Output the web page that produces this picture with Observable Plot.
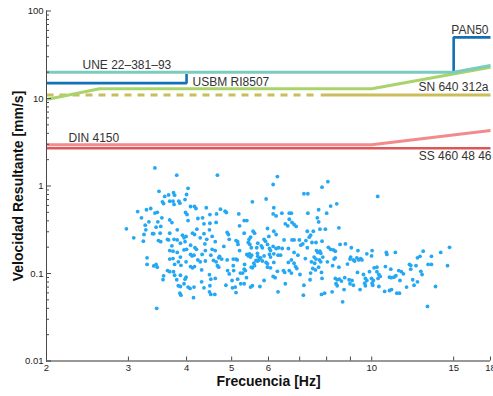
<!DOCTYPE html>
<html><head><meta charset="utf-8">
<script src="https://cdn.jsdelivr.net/npm/d3@7"></script>
<script src="https://cdn.jsdelivr.net/npm/@observablehq/plot@0.6"></script>
<style>
html,body{margin:0;padding:0;background:#fff;}
#chart svg{display:block;}
</style>
</head><body><div id="chart"></div>
<script>
// ---- axis ticks ----
const xTickValues = [2, 3, 4, 5, 6, 7, 8, 9, 10, 15, 18];
const yTickValues = [0.01, 0.1, 1, 10, 100];
const yMinorValues = [0.02,0.03,0.04,0.05,0.06,0.07,0.08,0.09,
                      0.2,0.3,0.4,0.5,0.6,0.7,0.8,0.9,
                      2,3,4,5,6,7,8,9,
                      20,30,40,50,60,70,80,90];

// ---- standard limit curves (Hz, mm/s) ----
const uneFreq = [2, 15, 18];        const uneVel = [20, 20, 23.8];
const usbmFreq = [2, 4, 4];         const usbmVel = [15, 15, 19];
const pan50Freq = [15, 15, 18];     const pan50Vel = [20, 50, 50];
const snFreq = [2, 2.6, 10, 18];    const snVel = [9.75, 12.9, 12.9, 22.8];
const oliveDashFreq = [2, 7.58];    const oliveDashVel = [11, 11];
const oliveFreq = [7.77, 18];       const oliveVel = [11, 11];
const dinFreq = [2, 10, 18];        const dinVel = [2.96, 2.96, 4.3];
const ssFreq = [2, 18];             const ssVel = [2.7, 2.7];

// ---- labels ----
const labelText = ["UNE 22–381–93", "USBM RI8507", "PAN50", "SN 640 312a", "DIN 4150", "SS 460 48 46"];
const labelFreq = [2, 4, 18, 18, 2, 18];
const labelVel  = [20, 15, 50, 12.9, 2.96, 2.7];

// ---- measured points ----
const scatterFreq = [
3.42,3.49,3.59,3.66,3.55,3.57,3.68,3.14,3.28,3.35,3.42,3.46,3.20,3.54,3.32,3.47,3.68,3.26,3.44,3.52,
2.97,3.27,3.24,3.38,3.40,3.51,3.68,3.08,3.23,3.48,3.52,3.64,3.66,3.68,3.29,3.29,3.40,3.44,3.46,3.64,
3.68,3.57,3.56,3.45,3.68,3.81,4.66,4.03,3.75,3.77,4.00,3.74,3.76,3.85,3.87,3.97,4.08,4.16,4.19,4.41,
4.73,4.84,4.87,3.98,4.01,4.49,4.64,4.23,4.33,4.03,3.72,4.36,4.49,4.63,3.82,4.21,4.36,4.48,4.89,4.92,
3.92,3.95,3.99,4.12,4.16,3.76,3.82,4.54,4.28,4.42,4.94,3.88,3.97,4.61,3.72,4.08,4.38,4.81,4.17,4.20,
3.95,4.00,4.39,4.54,4.61,3.74,3.82,4.08,4.11,4.15,4.32,4.51,3.88,3.74,4.69,4.71,4.76,3.84,3.99,4.23,
4.28,4.39,4.57,4.63,4.89,3.77,3.89,4.08,4.12,4.16,4.66,4.69,4.31,3.75,3.77,3.88,3.99,3.97,4.48,4.51,
4.61,4.90,4.94,3.81,4.31,4.86,3.84,3.88,3.95,4.03,4.07,4.15,4.36,4.49,3.87,3.89,4.48,4.51,4.60,4.14,
6.27,6.14,5.54,5.93,6.16,6.14,6.23,6.41,6.65,5.18,5.32,5.39,5.20,6.52,6.60,6.65,5.56,5.60,5.97,6.16,
6.23,5.32,5.49,5.45,6.01,5.87,5.91,6.48,5.11,5.15,5.16,5.43,5.47,5.69,5.79,5.82,5.97,6.14,6.31,5.51,
5.66,5.20,6.03,6.06,6.23,6.42,6.62,5.39,5.43,5.46,5.49,5.52,5.68,5.69,5.73,5.77,5.87,6.03,6.06,6.16,
6.29,6.37,5.11,5.04,5.14,5.64,5.68,5.71,5.58,5.82,5.93,5.97,6.16,5.33,6.62,5.04,5.51,5.54,5.60,5.97,
6.06,5.32,5.35,5.05,6.46,6.50,6.65,6.27,5.22,5.28,6.14,6.20,5.38,5.15,5.87,5.01,5.23,5.32,6.52,5.49,
5.54,5.75,5.02,5.09,5.11,6.29,8.05,7.82,7.15,7.29,8.41,8.16,6.72,7.29,7.69,8.00,7.64,7.69,6.74,6.81,
6.88,8.50,7.27,7.49,7.74,7.95,7.39,7.34,6.74,6.81,6.99,7.22,7.82,7.44,7.59,7.04,7.11,7.27,8.55,8.78,
8.07,8.16,8.27,8.35,7.61,7.66,7.74,7.77,6.81,6.94,7.20,7.52,7.59,7.72,7.85,8.30,8.35,8.98,6.72,6.81,
7.42,7.54,7.77,8.03,6.86,6.90,7.47,7.57,7.69,8.24,8.50,8.87,6.72,7.01,7.39,7.80,8.35,8.43,8.52,8.61,
8.75,7.82,7.37,8.38,8.43,7.15,8.94,8.72,8.22,7.80,7.92,7.13,8.66,8.98,10.3,9.04,9.34,9.76,10.02,9.99,
9.01,9.13,9.19,9.29,9.38,9.47,9.53,10.75,10.78,11.24,12.05,10.12,10.26,10.70,10.99,9.32,9.60,9.89,10.26,10.36,
10.43,11.43,11.58,11.70,10.92,11.01,11.16,11.27,9.69,9.76,9.99,10.08,9.07,10.32,11.50,9.66,9.69,10.02,10.05,9.13,
11.88,10.36,9.44,10.66,10.92,11.03,11.32,11.47,14.7,12.9,14.07,12.54,12.70,13.44,12.13,12.45,13.22,13.44,14.55,12.13,
12.75,12.83,12.25,12.54,12.33,13.71,13.18
];
const scatterVel = [
1.61,0.87,0.76,0.79,0.66,0.63,0.67,0.51,0.535,0.553,0.49,0.50,0.433,0.433,0.39,0.39,0.41,0.357,0.338,0.345,
0.324,0.316,0.279,0.285,0.285,0.289,0.289,0.256,0.234,0.238,0.231,0.246,0.242,0.183,0.151,0.127,0.122,0.127,0.118,0.108,
0.105,0.094,0.085,0.040,0.146,1.33,1.33,0.94,0.84,0.785,0.80,0.67,0.615,0.67,0.636,0.70,0.583,0.583,0.553,0.564,
0.543,0.515,0.498,0.498,0.472,0.472,0.48,0.425,0.433,0.403,0.382,0.37,0.375,0.383,0.316,0.321,0.285,0.316,0.294,0.279,
0.274,0.256,0.265,0.289,0.279,0.246,0.242,0.265,0.256,0.246,0.246,0.222,0.231,0.231,0.207,0.211,0.218,0.204,0.197,0.189,
0.186,0.189,0.183,0.189,0.183,0.180,0.174,0.165,0.159,0.162,0.165,0.162,0.154,0.148,0.151,0.157,0.146,0.136,0.136,0.143,
0.136,0.139,0.141,0.136,0.143,0.127,0.124,0.120,0.116,0.120,0.123,0.118,0.110,0.105,0.0955,0.0955,0.0908,0.0862,0.097,0.0862,
0.0878,0.108,0.099,0.0848,0.0804,0.0734,0.0724,0.071,0.0764,0.0699,0.0676,0.0699,0.0686,0.0724,0.0596,0.0566,0.0617,0.0576,0.0576,0.053,
1.28,1.04,0.66,0.71,0.564,0.48,0.455,0.489,0.489,0.48,0.403,0.403,0.351,0.37,0.351,0.417,0.304,0.289,0.327,0.304,
0.279,0.289,0.26,0.246,0.265,0.246,0.234,0.242,0.238,0.231,0.215,0.226,0.215,0.222,0.207,0.197,0.215,0.204,0.197,0.197,
0.197,0.183,0.193,0.183,0.193,0.193,0.193,0.165,0.159,0.168,0.154,0.162,0.170,0.157,0.146,0.151,0.159,0.165,0.154,0.168,
0.162,0.162,0.146,0.146,0.143,0.141,0.139,0.141,0.131,0.139,0.134,0.129,0.134,0.127,0.134,0.123,0.118,0.116,0.123,0.118,
0.116,0.112,0.108,0.108,0.108,0.103,0.108,0.106,0.101,0.101,0.0925,0.0897,0.0897,0.0862,0.0832,0.0832,0.0764,0.0764,0.0764,0.0699,
0.0724,0.0710,0.0686,0.0699,0.0606,0.0617,1.12,0.97,0.815,0.815,0.626,0.59,0.489,0.489,0.535,0.489,0.433,0.389,0.383,0.363,
0.345,0.333,0.304,0.304,0.321,0.321,0.274,0.26,0.242,0.242,0.242,0.238,0.234,0.226,0.226,0.211,0.218,0.197,0.215,0.218,
0.199,0.189,0.186,0.180,0.183,0.174,0.180,0.170,0.174,0.162,0.148,0.154,0.146,0.143,0.154,0.146,0.151,0.146,0.143,0.131,
0.136,0.131,0.136,0.136,0.120,0.114,0.114,0.110,0.118,0.123,0.118,0.128,0.101,0.0974,0.101,0.103,0.0878,0.0848,0.0862,0.0819,
0.0897,0.0878,0.0848,0.0764,0.0724,0.0734,0.0848,0.0655,0.0617,0.0576,0.0596,0.0566,0.0474,0.0764,0.76,0.197,0.183,0.168,0.183,0.159,
0.154,0.143,0.139,0.151,0.143,0.148,0.143,0.174,0.165,0.174,0.127,0.116,0.118,0.120,0.112,0.103,0.0974,0.105,0.105,0.0974,
0.0925,0.108,0.105,0.0992,0.0908,0.0897,0.0908,0.0942,0.0878,0.0832,0.0878,0.0832,0.0832,0.0878,0.0832,0.0776,0.0724,0.0776,0.0734,0.0734,
0.0699,0.0710,0.0655,0.0624,0.0639,0.0655,0.0596,0.0596,0.199,0.180,0.174,0.151,0.157,0.157,0.124,0.123,0.127,0.127,0.123,0.112,
0.106,0.0974,0.0848,0.0803,0.0734,0.071,0.042
];

const rows = (fs, vs) => fs.map((f, i) => ({f, v: vs[i]}));
const points = rows(scatterFreq, scatterVel);
const labels = labelText.map((t, i) => ({t, f: labelFreq[i], v: labelVel[i]}));

const W = 493, H = 396, mL = 46, mR = 3, mT = 10.5, mB = 35.5;
const innerW = W - mL - mR, innerH = H - mT - mB;
const axisColor = "#4a4a4a";
const labelFont = 12;

const lineOpts = (stroke, strokeWidth, extra = {}) => ({x: "f", y: "v", stroke, strokeWidth, strokeLinejoin: "miter", strokeLinecap: "butt", ...extra});

const chart = Plot.plot({
  width: W, height: H,
  marginLeft: mL, marginRight: mR, marginTop: mT, marginBottom: mB,
  style: {fontFamily: "'Liberation Sans', Arial, Helvetica, sans-serif", background: "#fff", color: "#222", overflow: "hidden"},
  x: {type: "log", domain: [2, 18]},
  y: {type: "log", domain: [0.01, 100]},
  marks: [
    // scatter
    Plot.dot(points, {x: "f", y: "v", r: 1.9, fill: "#24a8f4", stroke: "none"}),
    // limit curves
    Plot.line(rows(oliveDashFreq, oliveDashVel), lineOpts("#c9bd5c", 3, {strokeDasharray: "7,6"})),
    Plot.line(rows(oliveFreq, oliveVel), lineOpts("#c9bd5c", 3)),
    Plot.line(rows(ssFreq, ssVel), lineOpts("#dc5858", 2.6)),
    Plot.line(rows(dinFreq, dinVel), lineOpts("#f28b8b", 3)),
    Plot.line(rows(usbmFreq, usbmVel), lineOpts("#1270b8", 2.6)),
    Plot.line(rows(snFreq, snVel), lineOpts("#a9d46c", 3)),
    Plot.line(rows(pan50Freq, pan50Vel), lineOpts("#1270b8", 2.6)),
    Plot.line(rows(uneFreq, uneVel), lineOpts("#7ccbbf", 3)),
    // curve labels
    Plot.text([labels[0]], {x: "f", y: "v", text: "t", textAnchor: "start", dx: 36, dy: -7, fontSize: labelFont, fill: "#333"}),
    Plot.text([labels[1]], {x: "f", y: "v", text: "t", textAnchor: "start", dx: 6, dy: -1, fontSize: labelFont, fill: "#333"}),
    Plot.text([labels[2]], {x: "f", y: "v", text: "t", textAnchor: "end", dx: -2, dy: -7, fontSize: labelFont, fill: "#333"}),
    Plot.text([labels[3]], {x: "f", y: "v", text: "t", textAnchor: "end", dx: -2, dy: -1.6, fontSize: labelFont, fill: "#333"}),
    Plot.text([labels[4]], {x: "f", y: "v", text: "t", textAnchor: "start", dx: 22, dy: -7, fontSize: labelFont, fill: "#333"}),
    Plot.text([labels[5]], {x: "f", y: "v", text: "t", textAnchor: "end", dx: 1, dy: 7.5, fontSize: labelFont, fill: "#333"}),
    // axes
    Plot.axisX(xTickValues, {anchor: "bottom", tickSize: 0, tickPadding: 3, fontSize: 9.5, tickFormat: d => String(d), label: null, fill: "#222"}),
    Plot.axisY(yTickValues, {anchor: "left", tickSize: 0, tickPadding: 3, fontSize: 9.5, tickFormat: d => String(d), label: null, fill: "#222"}),
    Plot.tickX(xTickValues.slice(1), {x: d => d, insetTop: innerH - 4, stroke: axisColor}),
    Plot.tickY(yTickValues, {y: d => d, insetRight: innerW - 5, stroke: axisColor}),
    Plot.tickY(yMinorValues, {y: d => d, insetRight: innerW - 3, stroke: axisColor}),
    Plot.ruleX([2], {stroke: axisColor}),
    Plot.ruleY([0.01], {stroke: "#333"}),
    // axis titles
    Plot.text(["Velocidad Resultante [mm/s]"], {frameAnchor: "left", dx: -28, rotate: -90, fontSize: 14, fontWeight: "bold", fill: "#111", textAnchor: "middle"}),
    Plot.text(["Frecuencia [Hz]"], {frameAnchor: "bottom", dy: 24.5, fontSize: 14, fontWeight: "bold", fill: "#111", textAnchor: "middle"})
  ]
});
document.getElementById("chart").appendChild(chart);
</script></body></html>
